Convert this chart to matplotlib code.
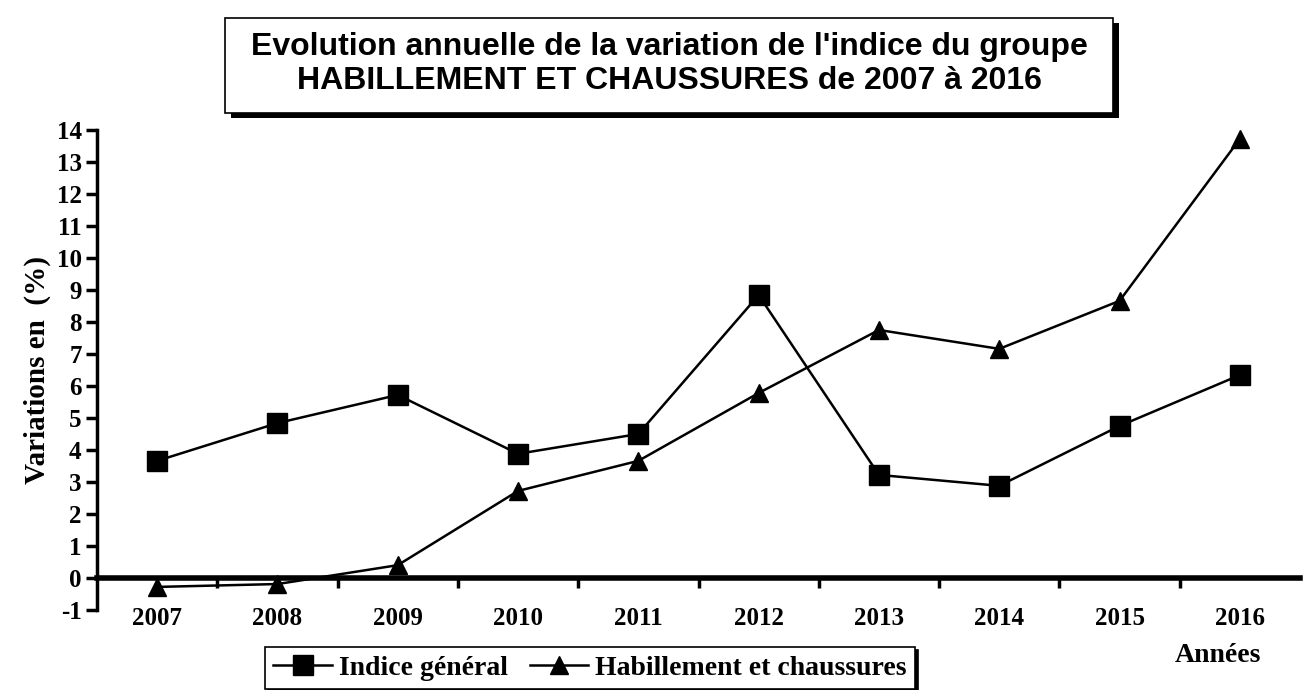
import matplotlib.pyplot as plt
from matplotlib.patches import Rectangle

annees = ['2007', '2008', '2009', '2010', '2011', '2012', '2013', '2014', '2015', '2016']
indice_general = [3.66, 4.84, 5.72, 3.88, 4.5, 8.84, 3.22, 2.88, 4.75, 6.34]
habillement = [-0.28, -0.19, 0.4, 2.72, 3.66, 5.78, 7.75, 7.16, 8.66, 13.72]
y_ticks = list(range(-1, 15))

serif = ['Liberation Serif', 'DejaVu Serif']
titre_font = ['Liberation Sans', 'DejaVu Sans']

fig = plt.figure(figsize=(13.11, 6.9), dpi=100)
ax = fig.add_axes([0.074, 0.116, 0.9176, 0.6956])

x = list(range(len(annees)))
ax.plot(x, indice_general, color='black', lw=1.8, marker='s', ms=14,
        label='Indice général')
ax.plot(x, habillement, color='black', lw=1.8, marker='^', ms=13,
        label='Habillement et chaussures')

ax.set_xlim(-0.5, len(annees) - 0.5)
ax.set_ylim(-1, 14)
ax.set_yticks(y_ticks)
ax.set_yticklabels([str(v) for v in y_ticks], family=serif, fontweight='bold', fontsize=18)

# axe des x a zero, graduations entre les categories
ax.spines['bottom'].set_position(('data', 0))
ax.spines['bottom'].set_linewidth(4)
ax.spines['left'].set_linewidth(2.5)
ax.spines['top'].set_visible(False)
ax.spines['right'].set_visible(False)
ax.set_xticks([i + 0.5 for i in range(len(annees) - 1)])
ax.set_xticklabels([])
ax.tick_params(axis='x', direction='out', length=7, width=2.5)
ax.tick_params(axis='y', direction='out', length=8, width=2.5, pad=3)

for i, a in enumerate(annees):
    ax.text(i, -0.92, a, ha='center', va='top', family=serif,
            fontweight='bold', fontsize=18)

ax.set_ylabel('Variations en  (%)', family=serif, fontweight='bold', fontsize=21,
              labelpad=4)
fig.text(1218 / 1311, 1 - 655 / 690, 'Années', ha='center', va='center', family=serif,
         fontweight='bold', fontsize=20)

# boite du titre avec ombre
fig.patches.append(Rectangle((231 / 1311, 1 - 118 / 690), 888 / 1311, 95 / 690,
                             transform=fig.transFigure, facecolor='black',
                             edgecolor='none', zorder=0))
fig.patches.append(Rectangle((225 / 1311, 1 - 113 / 690), 888 / 1311, 95 / 690,
                             transform=fig.transFigure, facecolor='white',
                             edgecolor='black', lw=1.2, zorder=1))
fig.text(669 / 1311, 1 - 64 / 690,
         "Evolution annuelle de la variation de l'indice du groupe\n"
         "HABILLEMENT ET CHAUSSURES de 2007 à 2016",
         ha='center', va='center', family=titre_font, fontweight='bold',
         fontsize=23, linespacing=1.15, zorder=2)

leg = ax.legend(loc='upper left', bbox_to_anchor=(265 / 1311, 1 - 647 / 690),
                bbox_transform=fig.transFigure, ncol=2, frameon=True,
                fancybox=False, shadow={'color': 'black', 'alpha': 1},
                edgecolor='black', handlelength=2.1, handletextpad=0.25,
                columnspacing=0.8, borderpad=0.3, borderaxespad=0,
                prop={'family': serif, 'weight': 'bold', 'size': 20})
leg.get_frame().set_linewidth(1.2)

fig.savefig('out.png', dpi=100)
